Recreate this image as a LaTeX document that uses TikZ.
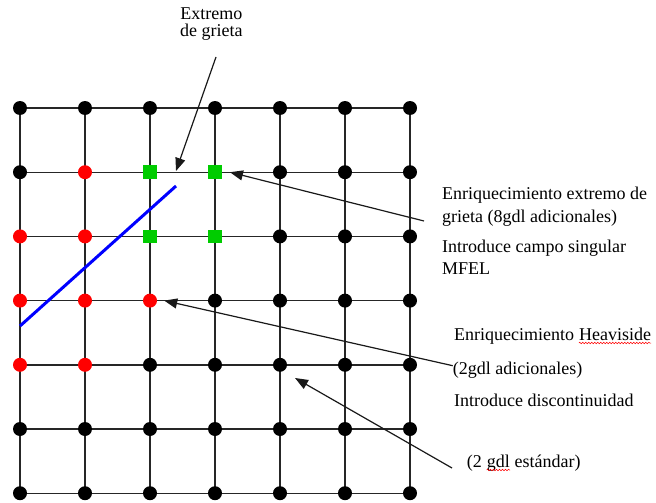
\documentclass[tikz,border=0pt]{standalone}
\usepackage{fontspec}
\setmainfont{Liberation Serif}
\usetikzlibrary{arrows.meta,backgrounds,decorations.pathmorphing}

\definecolor{tipgreen}{RGB}{0,204,0}
\definecolor{heavired}{RGB}{255,0,0}

\begin{document}
\begin{tikzpicture}[
    x=1pt, y=-1pt,
    dof/.style={circle, fill=black, minimum size=14pt, inner sep=0pt},
    heavi/.style={dof, fill=heavired},
    tipdof/.style={rectangle, fill=tipgreen, minimum size=13.5pt, inner sep=0pt},
    gridline/.style={draw=black!85, line width=1.4pt},
    crack/.style={draw=blue, line width=3pt},
    callout/.style={draw=black!90, line width=1.2pt, -{Triangle[length=13pt,width=10pt]}},
    txt/.style={inner sep=0pt, anchor=base west, align=left, font=\fontsize{18}{23}\selectfont},
    spell/.style={draw=red, line width=0.5pt, decorate, decoration={snake, amplitude=0.8pt, segment length=3pt}},
    % enriched nodes
    enr-1-1/.style=heavi, enr-0-2/.style=heavi, enr-1-2/.style=heavi,
    enr-0-3/.style=heavi, enr-1-3/.style=heavi, enr-2-3/.style=heavi,
    enr-0-4/.style=heavi, enr-1-4/.style=heavi,
    enr-2-1/.style=tipdof, enr-3-1/.style=tipdof,
    enr-2-2/.style=tipdof, enr-3-2/.style=tipdof
]
    \useasboundingbox (0,0) rectangle (656,503);

    % Mesh nodes
    \foreach \i in {0,...,6}
        \foreach \j in {0,...,6}
            \node[dof, enr-\i-\j/.try] (n-\i-\j) at (20+65*\i, 108+64.2*\j) {};

    % Mesh lines
    \begin{scope}[on background layer]
        \foreach \k in {0,...,6} {
            \draw[gridline] (n-0-\k.center) -- (n-6-\k.center);
            \draw[gridline] (n-\k-0.center) -- (n-\k-6.center);
        }
    \end{scope}

    % Crack
    \coordinate (crack-a) at (20,326);
    \coordinate (crack-b) at (176,186);
    \draw[crack] (crack-a) -- (crack-b);

    % Labels (base = last line)
    \node[txt, align=center, font=\fontsize{18}{17}\selectfont] (tip-lbl) at (180,37) {Extremo\\de grieta};
    \node[txt] (tip-enr) at (442,222) {Enriquecimiento extremo de\\grieta (8gdl adicionales)};
    \node[txt, font=\fontsize{18}{22}\selectfont] (tip-sing) at (442,274) {Introduce campo singular\\MFEL};
    \node[txt] (hv-enr) at (454,340) {Enriquecimiento};
    \node[txt] (hv-word) at ([xshift=4.5pt]hv-enr.base east) {Heaviside};
    \node[txt] (hv-dof) at (452.7,374) {(2gdl adicionales)};
    \node[txt] (hv-disc) at (454,406) {Introduce discontinuidad};
    \node[txt] (std-a) at (466.7,467) {(2};
    \node[txt] (std-word) at ([xshift=4.5pt]std-a.base east) {gdl};
    \node[txt] (std-b) at ([xshift=4.5pt]std-word.base east) {estándar)};

    % Spelling marks
    \draw[spell] ([yshift=-3pt]hv-word.base west) -- ([yshift=-3pt]hv-word.base east);
    \draw[spell] ([yshift=-3pt]std-word.base west) -- ([yshift=-3pt]std-word.base east);

    % Callouts
    \coordinate (tip-from) at (216,57);
    \coordinate (tip-to) at (176,171);
    \coordinate (enr-from) at (424,221);
    \coordinate (std-from) at (452,468);
    \coordinate (std-to) at (295,378);
    \draw[callout] (tip-from) -- (tip-to);
    \draw[callout] (enr-from) -- ([xshift=8pt]n-3-1.east);
    \draw[callout] ([yshift=4pt]hv-dof.west) -- ([xshift=7pt]n-2-3.east);
    \draw[callout] (std-from) -- (std-to);
\end{tikzpicture}
\end{document}
